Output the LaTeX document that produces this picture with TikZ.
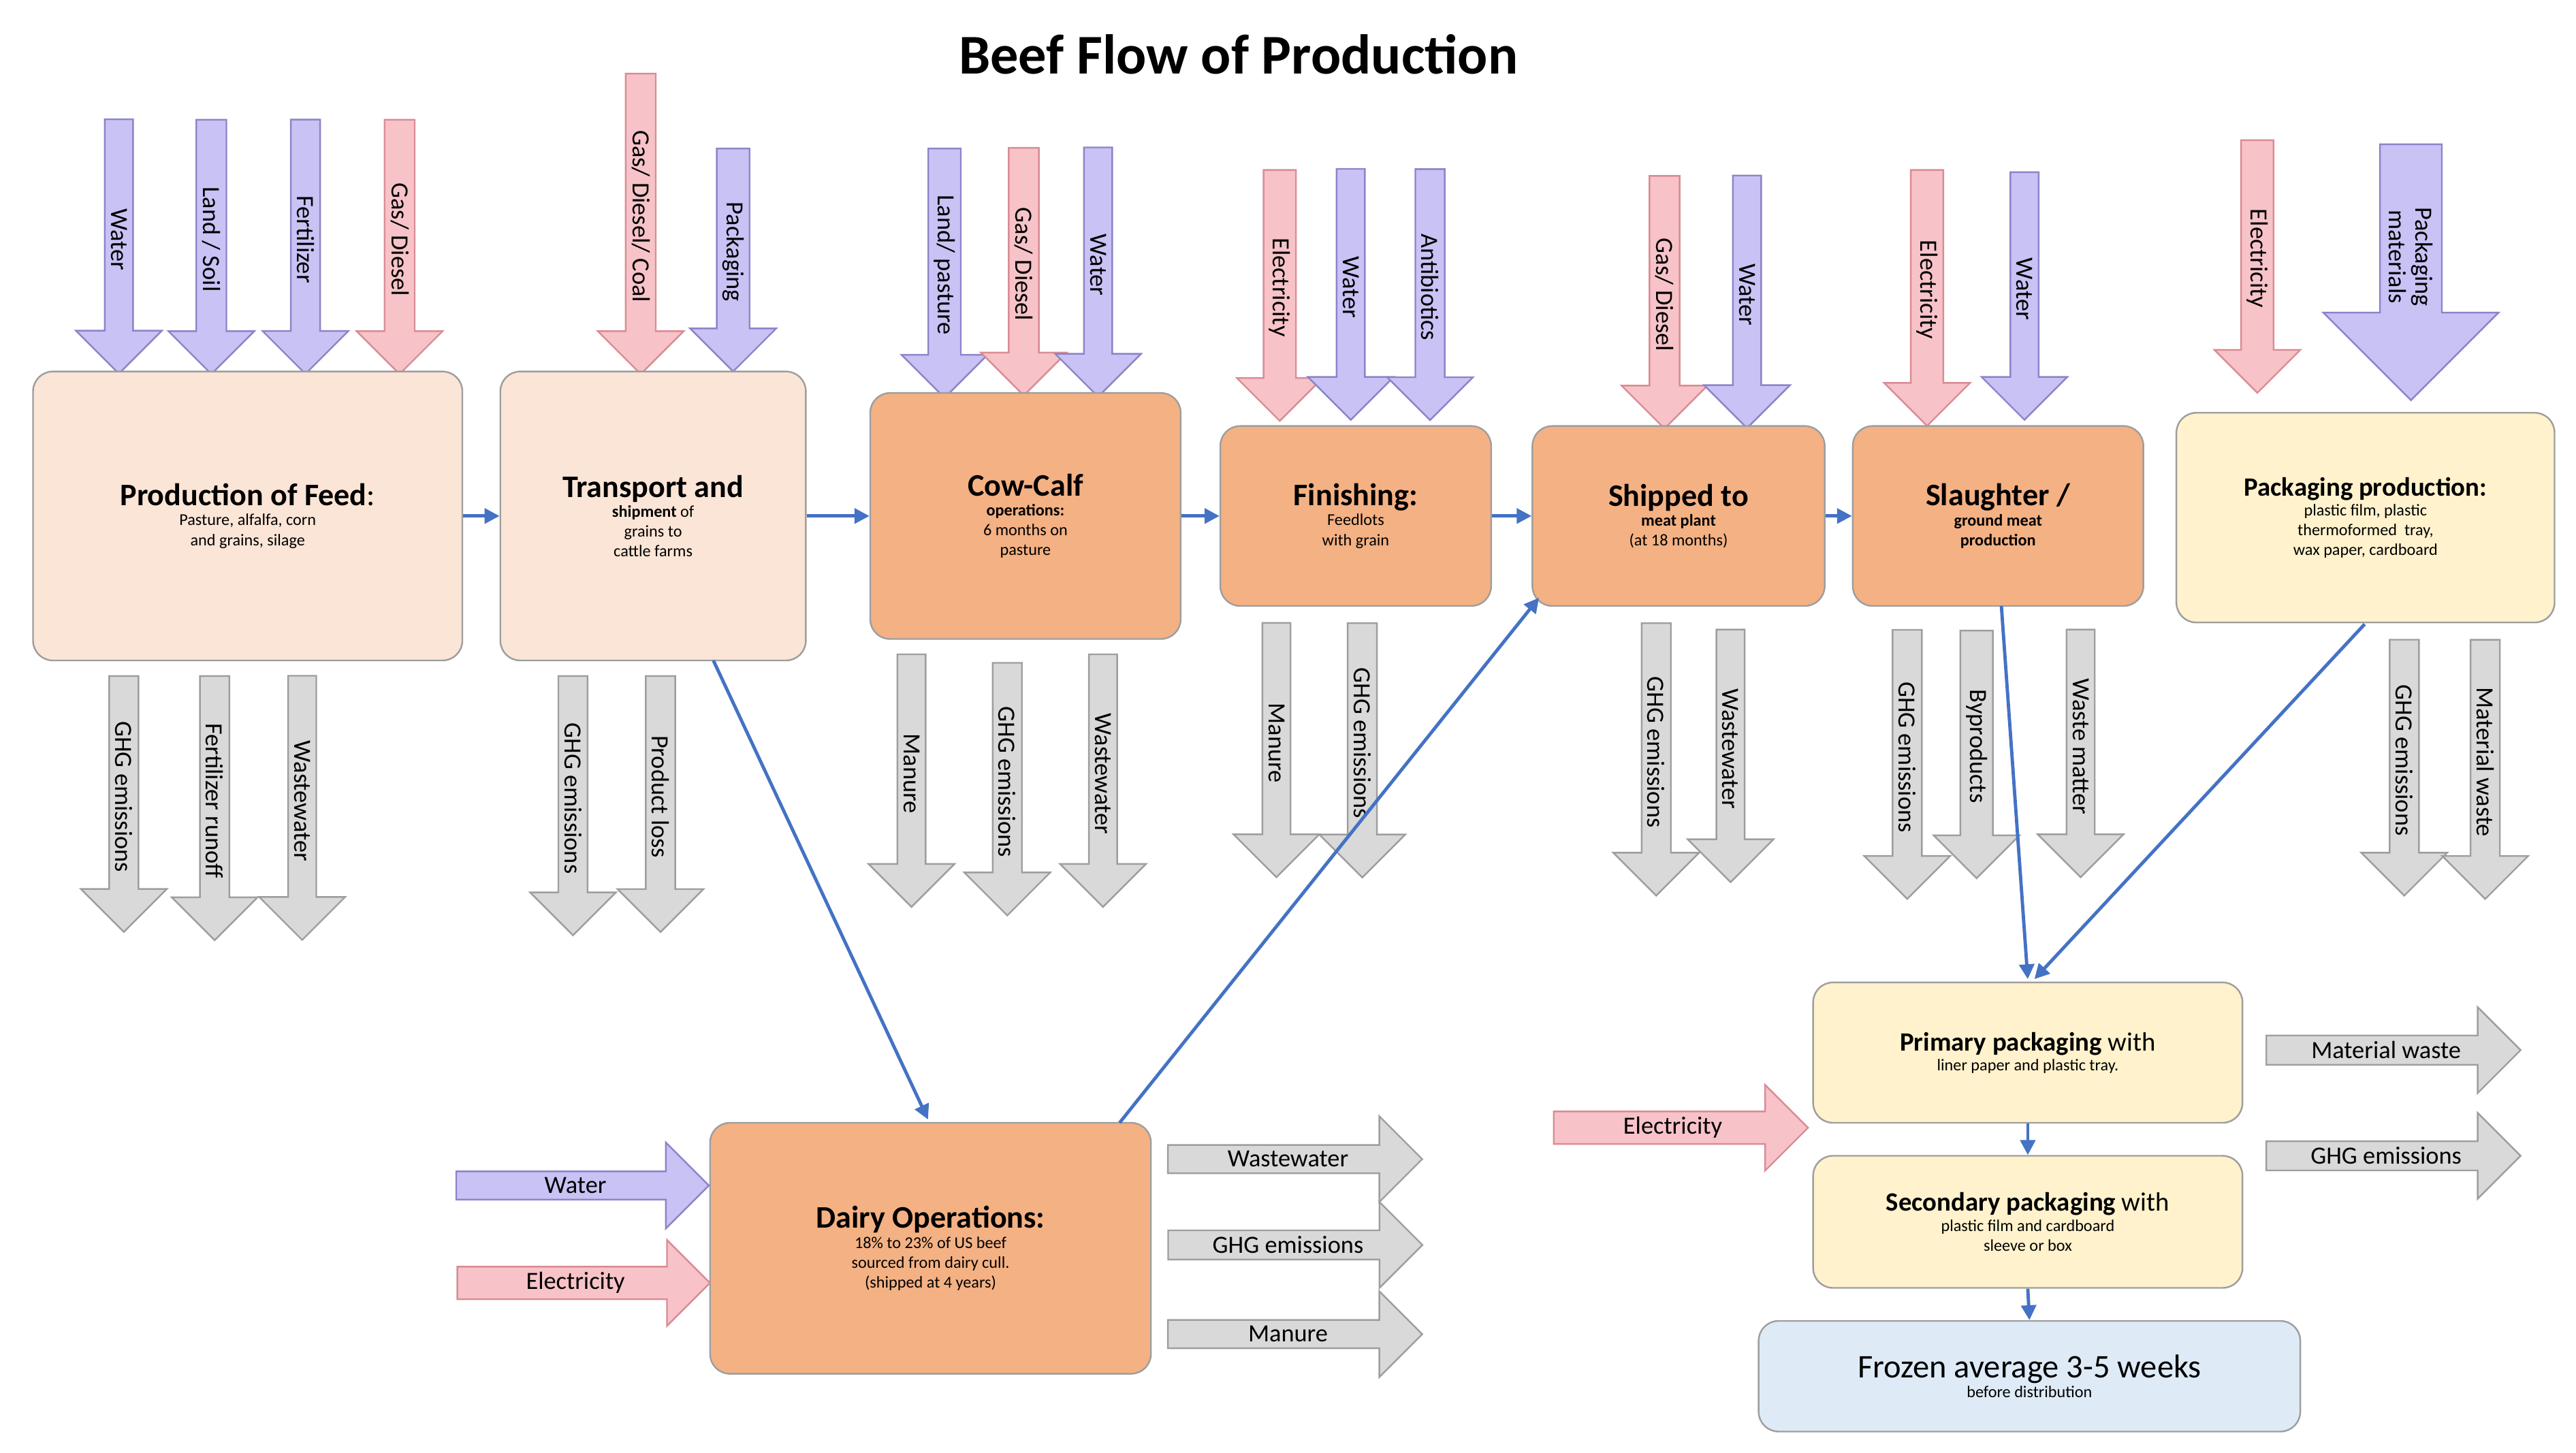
\documentclass[tikz,border=0pt]{standalone}
\usepackage{fontspec}
\setmainfont{Carlito}
\usetikzlibrary{shapes.arrows,arrows.meta}
\definecolor{pf}{HTML}{C9C2F5}\definecolor{pd}{HTML}{8C84C8}
\definecolor{kf}{HTML}{F7C3C8}\definecolor{kd}{HTML}{D98C94}
\definecolor{gf}{HTML}{D9D9D9}\definecolor{gd}{HTML}{9E9E9E}
\definecolor{peach}{HTML}{FBE5D6}\definecolor{orng}{HTML}{F4B183}
\definecolor{yel}{HTML}{FFF2CC}\definecolor{lblue}{HTML}{DEEBF7}
\definecolor{conn}{HTML}{4472C4}
\tikzset{
 arr/.style={single arrow, single arrow head extend=13pt, minimum width=52pt, inner sep=1pt, line width=1pt, font=\fontsize{15}{16}\selectfont},
 pu/.style={fill=pf,draw=pd}, pk/.style={fill=kf,draw=kd}, gr/.style={fill=gf,draw=gd},
 box/.style={rounded corners=12pt, draw=gd, line width=1pt, align=center, inner sep=0pt},
 con/.style={draw=conn, line width=2pt, -{Triangle[length=9pt,width=9pt]}}
}
\newcommand\dn[6]{\pgfmathsetmacro\ymid{(#3+#4)/2}\pgfmathsetmacro\len{#4-#3}\node[arr,#5,rotate=-90,minimum height=\len pt] (#1) at (#2,\ymid) {#6};}
\newcommand\rt[6]{\pgfmathsetmacro\xmid{(#3+#4)/2}\pgfmathsetmacro\len{#4-#3}\node[arr,#5,minimum height=\len pt] (#1) at (\xmid,#2) {#6};}
\newcommand\bx[7]{\node[box,fill=#6,minimum width=#4-#2,minimum height=#5-#3] (#1) at ({(#2+#4)/2},{(#3+#5)/2}) {#7};}
\begin{document}
\begin{tikzpicture}[x=1pt,y=-1pt]
\useasboundingbox (0,0) rectangle (1560,880);
\node[font=\fontsize{34}{36}\selectfont\bfseries] (title) at (750,33) {Beef Flow of Production};
% top inputs
\dn{a1}{72}{68}{222}{pu}{Water}
\dn{a2}{128}{68}{222}{pu}{Land / Soil}
\dn{a3}{185}{68}{222}{pu}{Fertilizer}
\dn{a4}{242}{68}{222}{pk}{Gas/ Diesel}
\dn{a5}{388}{40}{222}{pk}{Gas/ Diesel/ Coal}
\dn{a6}{444}{85}{220}{pu}{Packaging}
\dn{a7}{572}{85}{236}{pu}{Land/ pasture}
\dn{a8}{620}{85}{235}{pk}{Gas/ Diesel}
\dn{a9}{665}{85}{236}{pu}{Water}
\dn{a10}{775}{98}{250}{pk}{Electricity}
\dn{a11}{818}{98}{250}{pu}{Water}
\dn{a12}{866}{98}{250}{pu}{Antibiotics}
\dn{a13}{1008}{102}{255}{pk}{Gas/ Diesel}
\dn{a14}{1058}{102}{255}{pu}{Water}
\dn{a15}{1167}{98}{253}{pk}{Electricity}
\dn{a16}{1226}{100}{250}{pu}{Water}
\dn{a17}{1367}{80}{233}{pk}{Electricity}
\node[arr,pu,rotate=-90,minimum height=155pt,minimum width=106pt,single arrow head extend=27pt,align=center] (a18) at (1460,155.5) {Packaging\\materials};
% boxes
\bx{B1}{20}{225}{280}{400}{peach}{\fontsize{19}{29}\selectfont\textbf{Production of Feed}:\\Pasture, alfalfa, corn\\and grains, silage}
\bx{B2}{303}{225}{488}{400}{peach}{\fontsize{19}{29}\selectfont\textbf{Transport and}\\\textbf{shipment} of\\grains to\\cattle farms}
\bx{B3}{527}{238}{715}{387}{orng}{\fontsize{19}{29}\selectfont\textbf{Cow-Calf}\\\textbf{operations:}\\6 months on\\pasture}
\bx{B4}{739}{258}{903}{367}{orng}{\fontsize{19}{29}\selectfont\textbf{Finishing:}\\Feedlots\\with grain}
\bx{B5}{928}{258}{1105}{367}{orng}{\fontsize{19}{29}\selectfont\textbf{Shipped to}\\\textbf{meat plant}\\(at 18 months)}
\bx{B6}{1122}{258}{1298}{367}{orng}{\fontsize{19}{29}\selectfont\textbf{Slaughter /}\\\textbf{ground meat}\\\textbf{production}}
\bx{B7}{1318}{250}{1547}{377}{yel}{\fontsize{16}{25}\selectfont\textbf{Packaging production:}\\plastic film, plastic\\thermoformed\ \ tray,\\wax paper, cardboard}
\bx{D}{430}{680}{697}{832}{orng}{\fontsize{19}{29}\selectfont\textbf{Dairy Operations:}\\18\% to 23\% of US beef\\sourced from dairy cull.\\(shipped at 4 years)}
\bx{P1}{1098}{595}{1358}{680}{yel}{\fontsize{16}{25}\selectfont\textbf{Primary packaging} with\\liner paper and plastic tray.}
\bx{P2}{1098}{700}{1358}{780}{yel}{\fontsize{16}{24}\selectfont\textbf{Secondary packaging} with\\plastic film and cardboard\\sleeve or box}
\bx{P3}{1065}{800}{1393}{867}{lblue}{\fontsize{20}{29}\selectfont Frozen average 3-5 weeks\\before distribution}
% bottom outputs
\dn{o1}{75}{405}{560}{gr}{GHG emissions}
\dn{o2}{130}{405}{565}{gr}{Fertilizer runoff}
\dn{o3}{183}{405}{565}{gr}{Wastewater}
\dn{o4}{347}{405}{562}{gr}{GHG emissions}
\dn{o5}{400}{405}{560}{gr}{Product loss}
\dn{o6}{552}{392}{545}{gr}{Manure}
\dn{o7}{610}{397}{550}{gr}{GHG emissions}
\dn{o8}{668}{392}{545}{gr}{Wastewater}
\dn{o9}{773}{373}{527}{gr}{Manure}
\dn{o10}{825}{373}{527}{gr}{GHG emissions}
\dn{o11}{1003}{373}{538}{gr}{GHG emissions}
\dn{o12}{1048}{377}{530}{gr}{Wastewater}
\dn{o13}{1155}{377}{540}{gr}{GHG emissions}
\dn{o14}{1197}{377}{527}{gr}{Byproducts}
\dn{o15}{1260}{377}{527}{gr}{Waste matter}
\dn{o16}{1456}{383}{538}{gr}{GHG emissions}
\dn{o17}{1505}{383}{540}{gr}{Material waste}
% side arrows
\rt{s1}{718}{272}{425}{pu}{Water}
\rt{s2}{777}{272}{425}{pk}{Electricity}
\rt{s3}{702}{703}{857}{gr}{Wastewater}
\rt{s4}{754}{703}{857}{gr}{GHG emissions}
\rt{s5}{808}{703}{857}{gr}{Manure}
\rt{s6}{683}{936}{1090}{pk}{Electricity}
\rt{s7}{636}{1368}{1522}{gr}{Material waste}
\rt{s8}{700}{1368}{1522}{gr}{GHG emissions}
% connectors
\draw[con] (B1) -- (B2);
\draw[con] (B2.east|-B1.east) -- (B3.west|-B1.east);
\draw[con] (B3.east|-B4.east) -- (B4.west);
\draw[con] (B4) -- (B5);
\draw[con] (B5) -- (B6);
\coordinate (c1) at (432,400);
\coordinate (c2) at (562,678);
\coordinate (c3) at (678,680);
\coordinate (c4) at (932,362);
\coordinate (c5) at (1212,367);
\coordinate (c6) at (1228,593);
\coordinate (c7) at (1432,378);
\coordinate (c8) at (1232,593);
\draw[con] (c1) -- (c2);
\draw[con] (c3) -- (c4);
\draw[con] (c5) -- (c6);
\draw[con] (c7) -- (c8);
\draw[con] (P1.south) -- (P2.north);
\draw[con] (P2.south) -- (P3.north);
\end{tikzpicture}
\end{document}
